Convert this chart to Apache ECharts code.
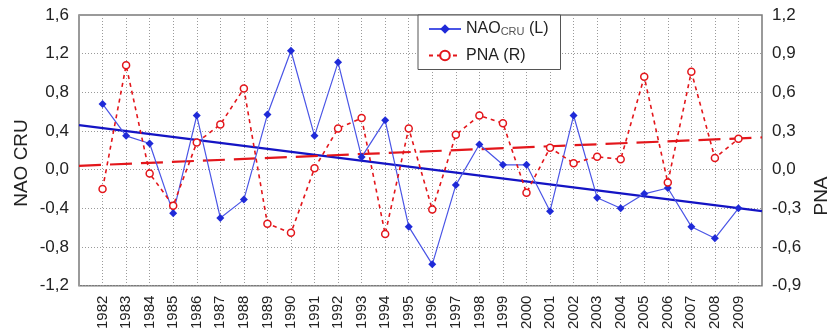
<!DOCTYPE html>
<html>
<head>
<meta charset="utf-8">
<script src="https://cdn.jsdelivr.net/npm/echarts@6/dist/echarts.min.js"></script>
<style>
html,body{margin:0;padding:0;background:#fff;}
#chart{width:832px;height:332px;}
</style>
</head>
<body>
<div id="chart"></div>
<script>
var years = [1982,1983,1984,1985,1986,1987,1988,1989,1990,1991,1992,1993,1994,1995,1996,1997,1998,1999,2000,2001,2002,2003,2004,2005,2006,2007,2008,2009];
var naoValues = [0.68,0.35,0.27,-0.45,0.56,-0.50,-0.31,0.57,1.23,0.35,1.11,0.13,0.51,-0.59,-0.98,-0.16,0.26,0.05,0.05,-0.43,0.56,-0.29,-0.40,-0.25,-0.19,-0.59,-0.71,-0.40];
var pnaValues = [-0.15,0.81,-0.03,-0.28,0.21,0.35,0.63,-0.42,-0.49,0.01,0.32,0.40,-0.50,0.32,-0.31,0.27,0.42,0.36,-0.18,0.17,0.05,0.10,0.08,0.72,-0.10,0.76,0.09,0.24];
var naoTrendYears = [1981, 2010];
var naoTrendValues = [0.46, -0.43];
var pnaTrendYears = [1981, 2010];
var pnaTrendValues = [0.03, 0.25];
var leftTicks = {min: -1.2, max: 1.6, interval: 0.4};
var rightTicks = {min: -0.9, max: 1.2, interval: 0.3};

function pairs(xs, ys){ return xs.map(function(x,i){ return [x, ys[i]]; }); }
function comma(v){ return (Math.round(v*10)/10).toFixed(1).replace('.', ','); }

var FONT = 'Liberation Sans, Arial, sans-serif';
var BLUE = '#1f2ad8';
var RED = '#e3161b';

var chart = echarts.init(document.getElementById('chart'), null, {renderer:'canvas'});
chart.setOption({
  animation: false,
  backgroundColor: '#fff',
  textStyle: {fontFamily: FONT},
  grid: {left: 79, right: 70, top: 15, bottom: 45, show: true, borderColor: '#7a7a7a', borderWidth: 1.5, backgroundColor: 'transparent'},
  legend: {
    data: ['NAO', 'PNA'],
    orient: 'vertical',
    left: 418, top: 15,
    backgroundColor: '#fff',
    borderColor: '#555', borderWidth: 1,
    padding: [6, 12, 6, 10],
    itemGap: 10,
    itemWidth: 32, itemHeight: 12,
    formatter: function(name){ return name === 'NAO' ? '{m|NAO}{s|CRU}{m| (L)}' : '{m|PNA (R)}'; },
    textStyle: {
      fontFamily: FONT, color: '#222',
      rich: {
        m: {fontSize: 16, fontFamily: FONT, color: '#222'},
        s: {fontSize: 11, fontFamily: FONT, color: '#555', verticalAlign: 'bottom', padding: [6,0,0,0]}
      }
    }
  },
  xAxis: {
    type: 'value', min: 1981, max: 2010, interval: 1,
    axisLine: {show: false}, axisTick: {show: false},
    splitLine: {show: true, lineStyle: {color: '#9a9a9a', type: [1, 2], width: 1}},
    axisLabel: {
      rotate: 90, margin: 10, fontSize: 15, color: '#222', fontFamily: FONT,
      showMinLabel: false, showMaxLabel: false,
      formatter: function(v){ return (v <= 1981 || v >= 2010) ? '' : String(v); }
    }
  },
  yAxis: [
    {
      type: 'value', min: leftTicks.min, max: leftTicks.max, interval: leftTicks.interval,
      axisLine: {show: false}, axisTick: {show: false},
      splitLine: {show: true, lineStyle: {color: '#9a9a9a', type: [1, 2], width: 1}},
      axisLabel: {fontSize: 17, color: '#222', margin: 10, fontFamily: FONT, formatter: comma}
    },
    {
      type: 'value', min: rightTicks.min, max: rightTicks.max, interval: rightTicks.interval,
      position: 'right',
      axisLine: {show: false}, axisTick: {show: false},
      splitLine: {show: false},
      axisLabel: {fontSize: 17, color: '#222', margin: 10, fontFamily: FONT, formatter: comma}
    }
  ],
  graphic: [
    {type: 'text', x: 22, y: 163, rotation: Math.PI/2,
     style: {text: 'NAO CRU', font: '19px ' + FONT, fill: '#222', textAlign: 'center', textVerticalAlign: 'middle'}},
    {type: 'text', x: 822, y: 196, rotation: Math.PI/2,
     style: {text: 'PNA', font: '19px ' + FONT, fill: '#222', textAlign: 'center', textVerticalAlign: 'middle'}}
  ],
  series: [
    {
      name: 'NAO', type: 'line', yAxisIndex: 0,
      data: pairs(years, naoValues),
      symbol: 'diamond', symbolSize: 8,
      itemStyle: {color: BLUE},
      lineStyle: {color: '#4a55e6', width: 1.2},
      z: 4
    },
    {
      name: 'NAO trend', type: 'line', yAxisIndex: 0,
      data: pairs(naoTrendYears, naoTrendValues),
      symbol: 'none',
      lineStyle: {color: '#1414c4', width: 2.2},
      z: 3
    },
    {
      name: 'PNA', type: 'line', yAxisIndex: 1,
      data: pairs(years, pnaValues),
      symbol: 'circle', symbolSize: 7,
      itemStyle: {color: '#fff', borderColor: RED, borderWidth: 1.5},
      lineStyle: {color: RED, width: 1.6, type: [4, 4]},
      z: 5
    },
    {
      name: 'PNA trend', type: 'line', yAxisIndex: 1,
      data: pairs(pnaTrendYears, pnaTrendValues),
      symbol: 'none',
      lineStyle: {color: RED, width: 2.2, type: [22, 9]},
      z: 3
    }
  ]
});
</script>
</body>
</html>
